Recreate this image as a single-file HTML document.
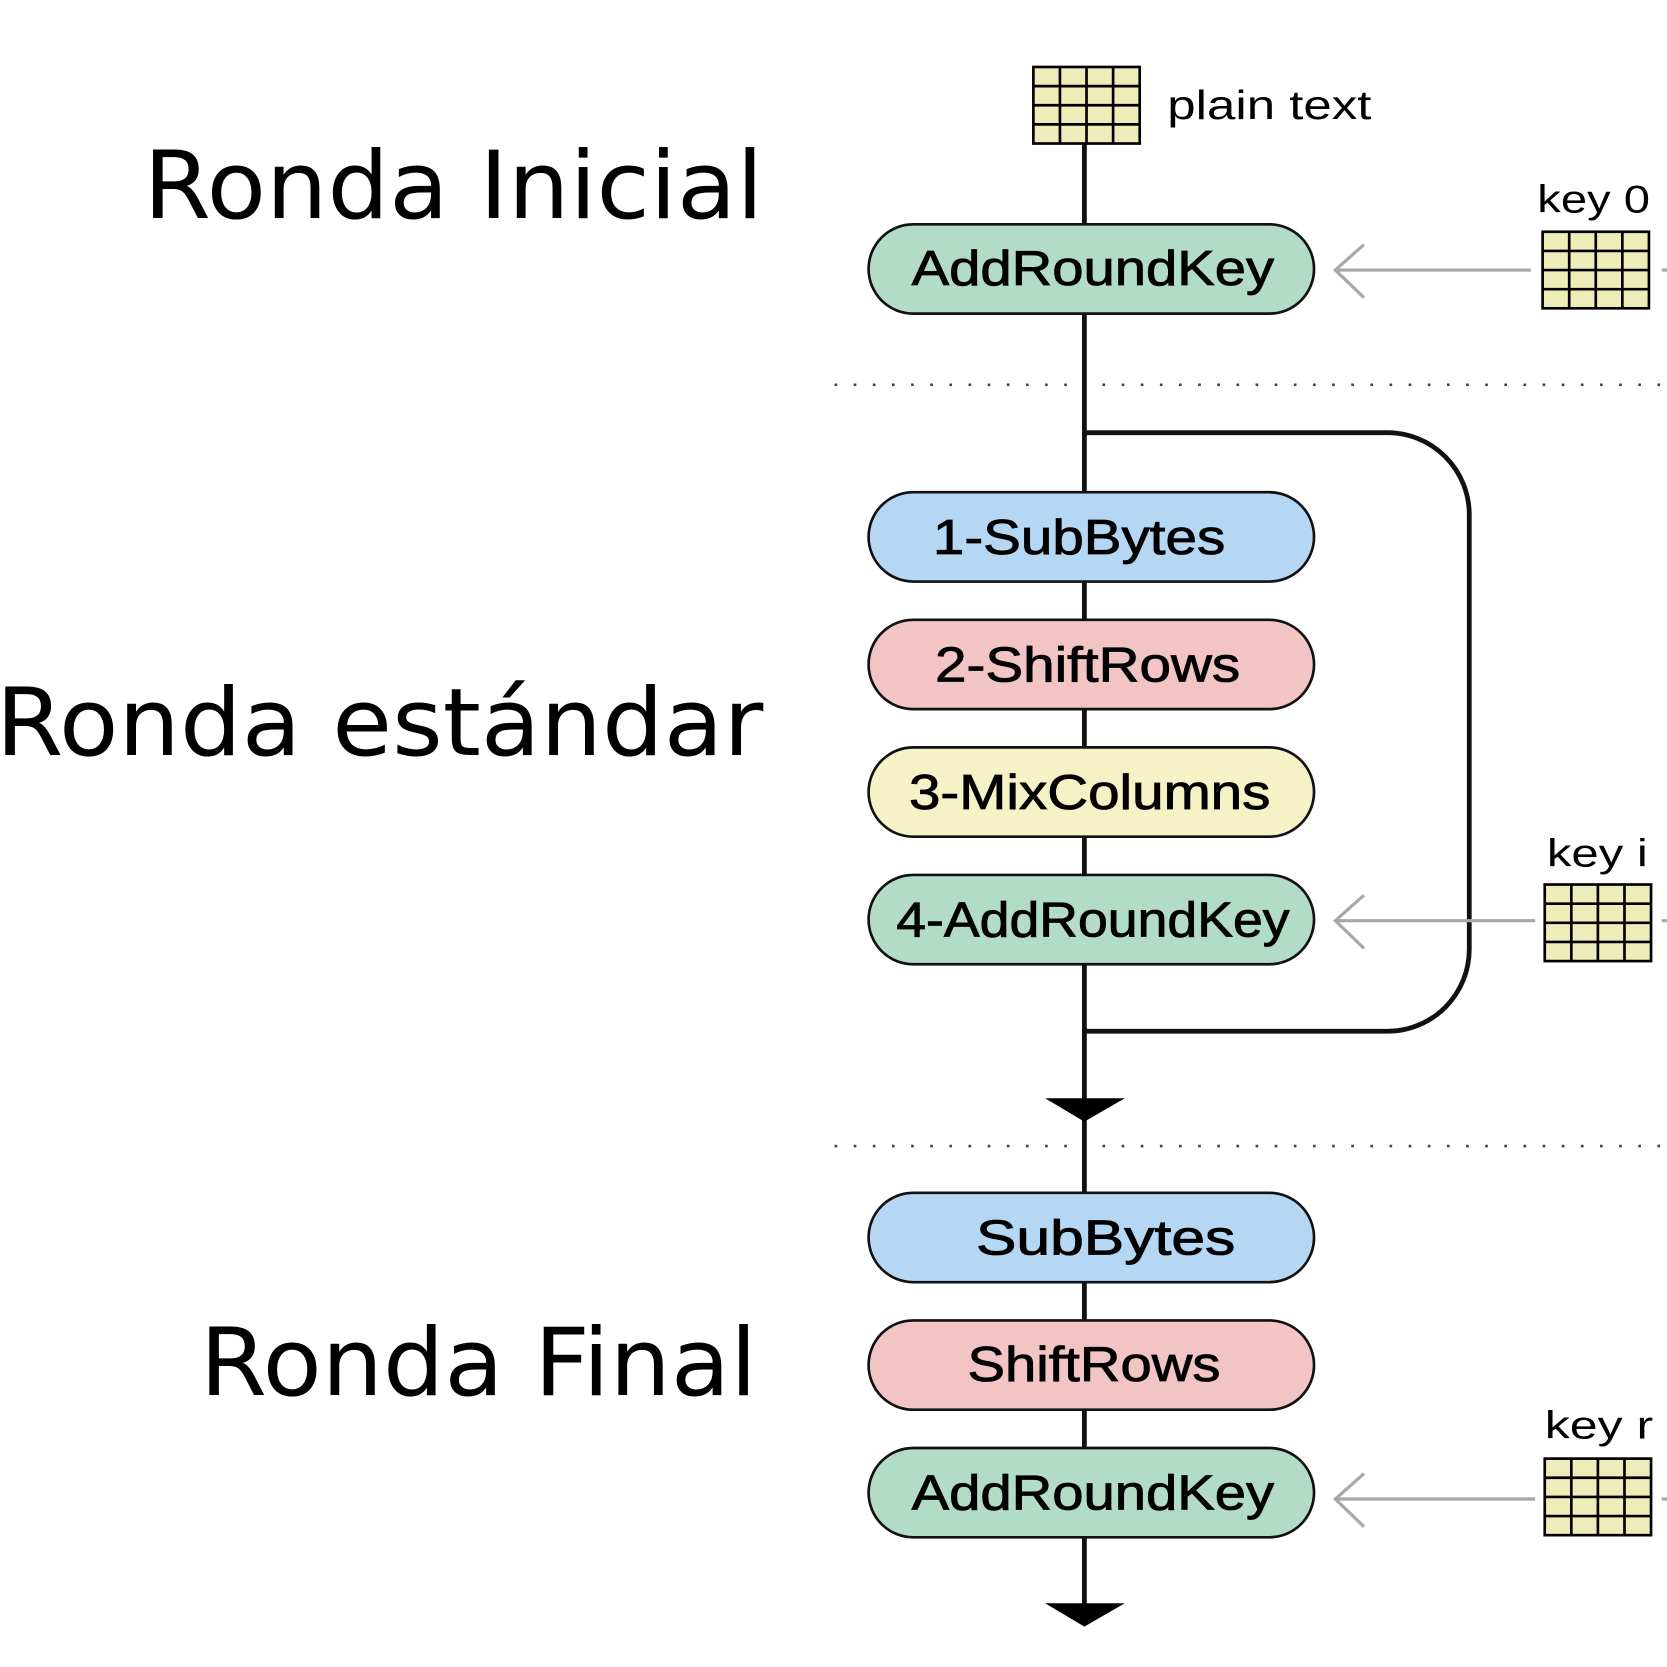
<!DOCTYPE html>
<html><head><meta charset="utf-8"><style>html,body{margin:0;padding:0;background:#fff}svg{display:block}</style></head><body>
<svg width="1667" height="1667" viewBox="0 0 1568 1568" xmlns="http://www.w3.org/2000/svg">
<defs>
<g id="grid">
<rect x="0" y="0" width="100" height="72" fill="#eeecb9" stroke="#000" stroke-width="2.5"/>
<path d="M25 0V72M50 0V72M75 0V72M0 18H100M0 36H100M0 54H100" stroke="#000" stroke-width="2.5"/>
</g>
</defs>
<g font-family="'DejaVu Sans', sans-serif" font-size="88" fill="#000" text-anchor="end">
<text x="718" y="205" textLength="583" lengthAdjust="spacingAndGlyphs">Ronda Inicial</text>
<text x="718" y="710" textLength="722" lengthAdjust="spacingAndGlyphs">Ronda estándar</text>
<text x="712" y="1312" textLength="524" lengthAdjust="spacingAndGlyphs">Ronda Final</text>
</g>
<path d="M785 362H1568M785 1078H1568" stroke="#444" stroke-width="2.5" stroke-dasharray="2.5 15.5"/>
<path d="M1020 135V1510" stroke="#111" stroke-width="4.5"/>
<path d="M1020 407H1305A77 77 0 0 1 1382 484V893A77 77 0 0 1 1305 970H1020" fill="none" stroke="#111" stroke-width="4.5"/>
<path d="M983 1033H1058L1020 1055Z" fill="#000"/>
<path d="M983 1508H1058L1020 1530Z" fill="#000"/>
<use href="#grid" x="972" y="63"/>
<text x="1098" y="112" font-family="'Liberation Sans', sans-serif" font-size="38" textLength="192" lengthAdjust="spacingAndGlyphs">plain text</text>
<g font-family="'Liberation Sans', sans-serif" font-size="37">
<text x="1446" y="200" textLength="106" lengthAdjust="spacingAndGlyphs">key 0</text>
<text x="1455" y="815" textLength="95" lengthAdjust="spacingAndGlyphs">key i</text>
<text x="1453" y="1353" textLength="102" lengthAdjust="spacingAndGlyphs">key r</text>
</g>
<use href="#grid" x="1451" y="218"/>
<use href="#grid" x="1453" y="832"/>
<use href="#grid" x="1453" y="1372"/>
<g stroke="#a8a8a8" stroke-width="3" fill="none">
<path d="M1440 254H1256M1283 230L1256 254L1283 280"/>
<path d="M1444 866H1256M1283 842L1256 866L1283 892"/>
<path d="M1444 1410H1256M1283 1386L1256 1410L1283 1436"/>
<path d="M1563 254H1568M1563 866H1568M1563 1410H1568"/>
</g>
<g stroke="#111" stroke-width="2.5">
<rect x="817" y="211" width="419" height="84" rx="42" fill="#b3dcc8"/>
<rect x="817" y="463" width="419" height="84" rx="42" fill="#b6d7f3"/>
<rect x="817" y="583" width="419" height="84" rx="42" fill="#f3c4c4"/>
<rect x="817" y="703" width="419" height="84" rx="42" fill="#f5f3c6"/>
<rect x="817" y="823" width="419" height="84" rx="42" fill="#b3dcc8"/>
<rect x="817" y="1122" width="419" height="84" rx="42" fill="#b6d7f3"/>
<rect x="817" y="1242" width="419" height="84" rx="42" fill="#f3c4c4"/>
<rect x="817" y="1362" width="419" height="84" rx="42" fill="#b3dcc8"/>
</g>
<g font-family="'Liberation Sans', sans-serif" font-size="46" fill="#000" stroke="#000" stroke-width="0.8" text-anchor="middle">
<text x="1028" y="268" textLength="341" lengthAdjust="spacingAndGlyphs">AddRoundKey</text>
<text x="1015" y="521" textLength="275" lengthAdjust="spacingAndGlyphs">1-SubBytes</text>
<text x="1023" y="641" textLength="287" lengthAdjust="spacingAndGlyphs">2-ShiftRows</text>
<text x="1025" y="761" textLength="340" lengthAdjust="spacingAndGlyphs">3-MixColumns</text>
<text x="1028" y="881" textLength="370" lengthAdjust="spacingAndGlyphs">4-AddRoundKey</text>
<text x="1040" y="1180" textLength="244" lengthAdjust="spacingAndGlyphs">SubBytes</text>
<text x="1029" y="1299" textLength="238" lengthAdjust="spacingAndGlyphs">ShiftRows</text>
<text x="1028" y="1420" textLength="341" lengthAdjust="spacingAndGlyphs">AddRoundKey</text>
</g>
</svg>
</body></html>
